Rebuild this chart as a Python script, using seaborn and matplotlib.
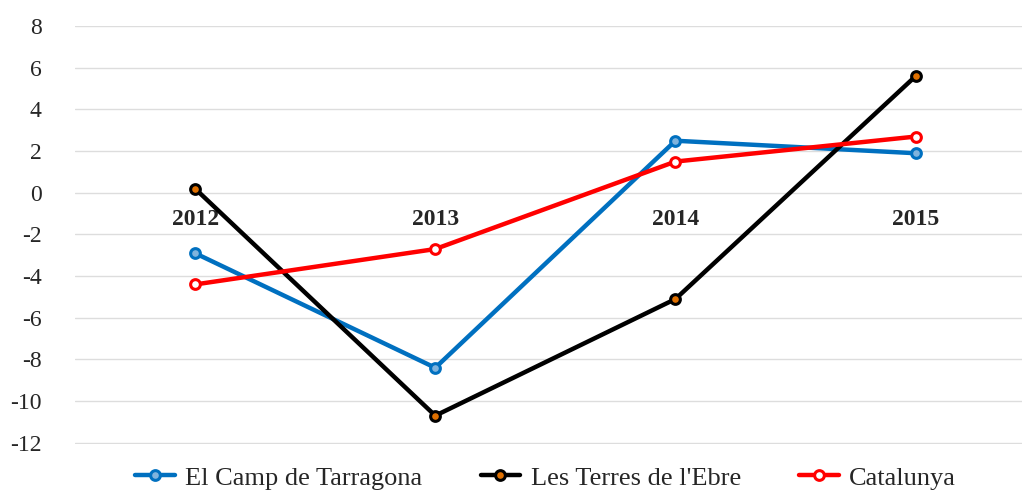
import numpy as np
import pandas as pd
import matplotlib
matplotlib.use("Agg")
import matplotlib.pyplot as plt
from matplotlib.lines import Line2D
import seaborn as sns

# data
years = ["2012", "2013", "2014", "2015"]
camp = [-2.9, -8.4, 2.5, 1.9]
ebre = [0.2, -10.7, -5.1, 5.6]
catalunya = [-4.4, -2.7, 1.5, 2.7]
series_names = ["El Camp de Tarragona", "Les Terres de l'Ebre", "Catalunya"]
y_ticks = [8, 6, 4, 2, 0, -2, -4, -6, -8, -10, -12]

sns.set_style("white")
plt.rcParams['font.family'] = ['Liberation Serif', 'DejaVu Serif']

fig = plt.figure(figsize=(10.22, 4.91), dpi=100)
ax = fig.add_axes([0.0734, 0.0957, 0.940, 0.851])

colors = ["#0070C0", "#000000", "#FF0000"]
faces = ["#7fb3dd", "#E07000", "#ffffff"]
x = np.arange(len(years))

handles = []
for name, vals, c, fc in zip(series_names, [camp, ebre, catalunya], colors, faces):
    df = pd.DataFrame({"x": x, "val": vals})
    style = dict(color=c, linewidth=3.2, marker="o", markersize=7,
                 markerfacecolor=fc, markeredgecolor=c, markeredgewidth=2.2)
    sns.lineplot(data=df, x="x", y="val", ax=ax, legend=False, **style)
    handles.append(Line2D([], [], label=name, **style))

# x axis crosses at zero (must come before tick labels, it resets ticks)
ax.spines['bottom'].set_position(('data', 0))
for s in ax.spines.values():
    s.set_visible(False)

ax.set_xlim(-0.5, 3.5)
ax.set_ylim(-12.06, 8)
ax.tick_params(axis='x', length=0, pad=12, labelsize=17)
ax.tick_params(axis='y', length=0, pad=24, labelsize=17)
ax.set_yticks(y_ticks)
ax.set_yticklabels([str(v) for v in y_ticks])
ax.set_xticks(x)
ax.set_xticklabels(years, fontweight="bold")
ax.yaxis.grid(True, color="#dddddd", linewidth=1)
ax.set_axisbelow(True)
ax.set_xlabel("")
ax.set_ylabel("")

ax.legend(handles=handles, loc="center", bbox_to_anchor=(0.49, -0.081), ncol=3,
          frameon=False, fontsize=19, handlelength=1.5, columnspacing=2.2,
          handletextpad=0.4, borderpad=0)

fig.savefig("out.png", dpi=100)
